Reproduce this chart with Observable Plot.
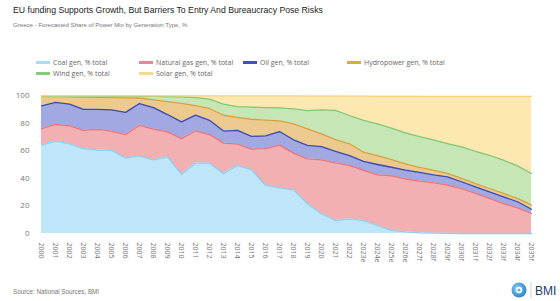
<!DOCTYPE html>
<html><head><meta charset="utf-8">
<script src="https://cdn.jsdelivr.net/npm/d3@7"></script>
<script src="https://cdn.jsdelivr.net/npm/@observablehq/plot@0.6"></script>
<style>
body{margin:0;background:#fff;}
#wrap{position:relative;width:560px;height:301px;overflow:hidden;font-family:"Liberation Sans",Arial,sans-serif;}
#title{position:absolute;left:13px;top:5px;font-size:8.7px;color:#222;white-space:nowrap}
#sub{position:absolute;left:13px;top:21px;font-size:6.1px;color:#777;white-space:nowrap}
.leg{position:absolute;font-size:7px;color:#666;font-family:"Open Sans",sans-serif;display:flex;align-items:center;white-space:nowrap;height:10px}
.sw{display:inline-block;width:14px;height:3px;margin-right:3px;}
#chart{position:absolute;left:0;top:85px;}
#src{position:absolute;left:13px;top:288px;font-size:6.3px;color:#777;white-space:nowrap}
#logo{position:absolute;left:500px;top:278px;}
</style>
</head><body>
<div id="wrap">
  <div id="title">EU funding Supports Growth, But Barriers To Entry And Bureaucracy Pose Risks</div>
  <div id="sub">Greece - Forecasted Share of Power Mix by Generation Type, %</div>
  <div id="legend"></div>
  <div id="chart"></div>
  <div id="src">Source: National Sources, BMI</div>
  <svg id="logo" width="60" height="23">
    <defs><radialGradient id="g" cx="40%" cy="40%" r="60%"><stop offset="0" stop-color="#8fd3f5"/><stop offset="1" stop-color="#2a86cc"/></radialGradient></defs>
    <circle cx="19" cy="12" r="7.5" fill="url(#g)"/>
    <circle cx="19" cy="12" r="3.2" fill="#fff"/>
    <circle cx="19" cy="12" r="1.6" fill="#5ab2e6"/>
    <line x1="31" y1="4" x2="31" y2="20" stroke="#c8c8c8" stroke-width="0.8"/>
    <text x="35" y="17" font-family="Liberation Sans, Arial" font-size="12" fill="#1d3b6e">BMI</text>
  </svg>
</div>
<script>
const years = ["2000","2001","2002","2003","2004","2005","2006","2007","2008","2009","2010","2011","2012","2013","2014","2015","2016","2017","2018","2019","2020","2021","2022","2023e","2024e","2025e","2026e","2027f","2028f","2029f","2030f","2031f","2032f","2033f","2034f","2035f"];
const seriesNames = ["Coal gen, % total","Natural gas gen, % total","Oil gen, % total","Hydropower gen, % total","Wind gen, % total","Solar gen, % total"];
const coal  = [64,67,65,61.5,60.5,60.4,54.8,56,53.3,55.6,43,51,51,43.5,49.4,46.2,35,33,31.6,21.5,14.3,9.4,10.6,9.4,5.8,2.2,1.2,0.5,0.2,0.1,0,0,0,0,0,0];
const gas   = [12,12,13,13.3,15,13.8,16.9,22.4,22.4,18,25.8,23.3,20.7,22,15.4,15,26.5,31,26.6,32.6,39.1,41.8,38.7,36.3,36.7,39.6,38.3,37.5,36.7,34.9,32.6,29,25.4,21.7,18.6,14.5];
const oil   = [16.5,16,15.8,15.2,14.5,15.4,16.1,15.8,15.5,12.6,12.1,11.5,10.3,8.7,9.9,9.2,9.3,9.9,9.7,9.7,9.6,8.3,7.2,6.5,7.5,6.2,6.5,6.3,5.6,6.1,4.9,4.8,4.8,4.9,4.4,3.1];
const hydro = [6.7,4.2,5.2,8.8,8.6,8.9,10.5,4,5.6,9.3,13.4,6.8,8.6,11.5,9.5,12.4,11.4,7.7,11.6,12,9.2,8.5,8.5,6.7,6.5,5.5,4.4,3.6,3.5,2.4,2.4,2.4,2.4,2.4,2.4,2.9];
const wind  = [0.3,0.2,0.4,0.5,0.7,0.8,1,1.1,2.5,3.7,4.7,5.8,6.7,8.1,7.8,8.8,9,9.4,10.8,13.3,17.4,21.2,20.5,23.1,23,22.9,22.6,22.3,21.8,21.7,22.9,23.4,24.1,24.1,23.6,23];
const solar = [0.3,0.4,0.4,0.5,0.5,0.5,0.5,0.5,0.5,0.6,0.8,1.4,2.5,5.9,7.7,8.1,8.5,8.7,9.4,10.5,10,10.4,14,17.5,19.9,23,26.4,29.2,31.5,34.1,36.5,39.7,42.6,46.2,50.3,55.8];
const yTicks = [0,20,40,60,80,100];

const fills   = ["#bfe6f8","#f3b0b3","#a1a8e2","#ecca8f","#c6e6b6","#fde8b2"];
const strokes = ["#8fcdef","#e8757d","#3b49ab","#d6a23e","#84c76f","#f7d47e"];
const legendSw = ["#a9dcf5","#e98a92","#4352b3","#d9aa45","#8bc97a","#f8d88e"];

const valueLists = [coal, gas, oil, hydro, wind, solar];
const fillMap = {}, strokeMap = {};
seriesNames.forEach((n,k)=>{fillMap[n]=fills[k]; strokeMap[n]=strokes[k];});
const data = seriesNames.flatMap((n,k)=> years.map((y,i)=>({year:y, value:valueLists[k][i], series:n})));

// legend
const legPos = [[36,57],[139,57],[243,57],[347,57],[36,68],[139,68]];
const legend = document.getElementById("legend");
seriesNames.forEach((n,k)=>{
  const d = document.createElement("div");
  d.className="leg"; d.style.left=legPos[k][0]+"px"; d.style.top=legPos[k][1]+"px";
  d.innerHTML = `<span class="sw" style="background:${legendSw[k]}"></span>${n}`;
  legend.appendChild(d);
});

const chart = Plot.plot({
  width:560, height:200,
  marginTop:10, marginLeft:35, marginRight:23, marginBottom:52,
  style:{color:"#777", fontSize:"8px", fontFamily:"Open Sans, sans-serif", background:"transparent"},
  x:{type:"point", domain:years, padding:0, tickRotate:90, tickSize:0, tickPadding:9, label:null},
  y:{domain:[0,100], ticks:yTicks, tickSize:0, tickPadding:6, label:null},
  color:{type:"identity"},
  marks:[
    Plot.areaY(data, {x:"year", y:"value", z:"series", fill:d=>fillMap[d.series]}),
    Plot.lineY(data, Plot.stackY2({x:"year", y:"value", z:"series", stroke:d=>strokeMap[d.series], strokeWidth:1.3}))
  ]
});
chart.querySelectorAll('g[aria-label="x-axis tick label"] text').forEach(t=>t.style.fontSize="7px");
document.getElementById("chart").appendChild(chart);
</script>
</body></html>
